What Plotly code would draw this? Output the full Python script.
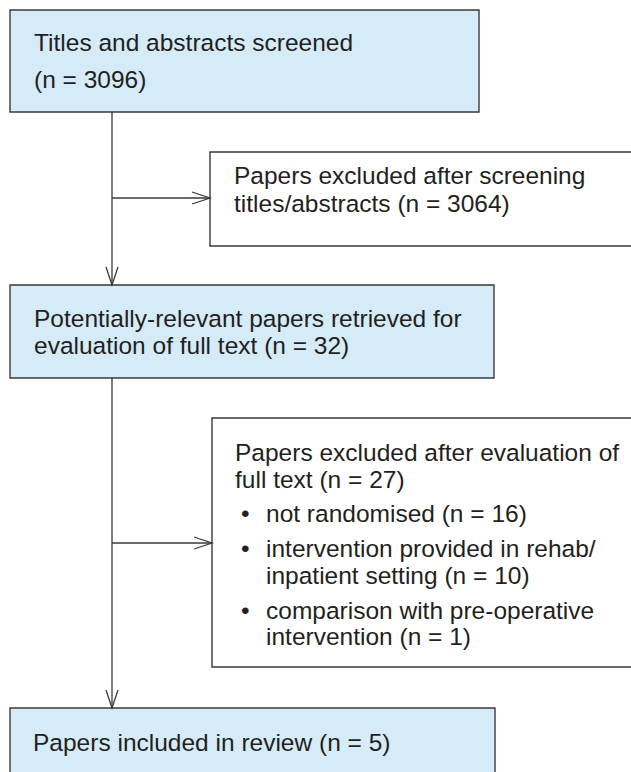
import plotly.graph_objects as go

# ---------------- data ----------------
stage_labels = ["Titles and abstracts screened",
                "Potentially-relevant papers retrieved for evaluation of full text",
                "Papers included in review"]
stage_n = [3096, 32, 5]
excluded_labels = ["Papers excluded after screening titles/abstracts",
                   "Papers excluded after evaluation of full text"]
excluded_n = [3064, 27]
reason_labels = ["not randomised",
                 "intervention provided in rehab/inpatient setting",
                 "comparison with pre-operative intervention"]
reason_n = [16, 10, 1]

# ---------------- text lines (wrapping as in the original) ----------------
box_lines = {
    "s1": ["Titles and abstracts screened", f"(n = {stage_n[0]})"],
    "s2": ["Potentially-relevant papers retrieved for",
           f"evaluation of full text (n = {stage_n[1]})"],
    "e1": ["Papers excluded after screening",
           f"titles/abstracts (n = {excluded_n[0]})"],
    "e2": ["Papers excluded after evaluation of",
           f"full text (n = {excluded_n[1]})"],
    "s3": [f"Papers included in review (n = {stage_n[2]})"],
}
bullet_lines = [
    [f"not randomised (n = {reason_n[0]})"],
    ["intervention provided in rehab/", f"inpatient setting (n = {reason_n[1]})"],
    ["comparison with pre-operative", f"intervention (n = {reason_n[2]})"],
]

# ---------------- layout geometry (axis units = pixels) ----------------
W, H = 631, 772
boxes = {  # x0, y0, x1, y1, filled
    "s1": (10, 10, 479, 112, True),
    "s2": (10, 285, 494, 378, True),
    "e1": (210, 152, 660, 246, False),
    "e2": (212, 418, 660, 667, False),
    "s3": (10, 708, 495, 800, True),
}
line_y = {
    "s1": [42, 79],
    "s2": [318, 345],
    "e1": [175, 203],
    "e2": [452, 479],
    "s3": [742],
}
text_x = {"s1": 32, "s2": 32, "e1": 232, "e2": 233, "s3": 31}
bullet_y = [[513], [548, 575], [610, 636]]
bullet_x, bullet_text_x = 239, 264
spine_x = 112

FILL = "#d5ebf8"
EDGE = "#3a3a3a"
TXT = "#231f20"
FONT = "Arial, Liberation Sans, Helvetica, sans-serif"
FS = 24.5

fig = go.Figure()
shapes = []
annotations = []

for k, (x0, y0, x1, y1, filled) in boxes.items():
    shapes.append(dict(type="rect", xref="x", yref="y", x0=x0, y0=y0, x1=x1, y1=y1,
                       fillcolor=FILL if filled else "white",
                       line=dict(color=EDGE, width=1.4), layer="below"))
    for txt, yy in zip(box_lines[k], line_y[k]):
        annotations.append(dict(x=text_x[k], y=yy, xref="x", yref="y", text=txt,
                                showarrow=False, xanchor="left", yanchor="middle",
                                font=dict(family=FONT, size=FS, color=TXT)))

for lines, ys in zip(bullet_lines, bullet_y):
    annotations.append(dict(x=bullet_x, y=ys[0], xref="x", yref="y", text="•",
                            showarrow=False, xanchor="left", yanchor="middle",
                            font=dict(family=FONT, size=FS, color=TXT)))
    for txt, yy in zip(lines, ys):
        annotations.append(dict(x=bullet_text_x, y=yy, xref="x", yref="y", text=txt,
                                showarrow=False, xanchor="left", yanchor="middle",
                                font=dict(family=FONT, size=FS, color=TXT)))

LW = 1.3
AL, AW = 18, 6  # arrowhead length, half-width


def connector(x0, y0, x1, y1):
    shapes.append(dict(type="line", xref="x", yref="y", x0=x0, y0=y0, x1=x1, y1=y1,
                       line=dict(color=EDGE, width=LW)))
    if x0 == x1:  # vertical, pointing down
        path = f"M{x1-AW},{y1-AL} L{x1},{y1} L{x1+AW},{y1-AL}"
    else:  # horizontal, pointing right
        path = f"M{x1-AL},{y1-AW} L{x1},{y1} L{x1-AL},{y1+AW}"
    shapes.append(dict(type="path", xref="x", yref="y", path=path,
                       line=dict(color=EDGE, width=LW)))


# vertical spine with arrows into the next stage
connector(spine_x, boxes["s1"][3], spine_x, boxes["s2"][1])
connector(spine_x, boxes["s2"][3], spine_x, boxes["s3"][1])
# side arrows to exclusion boxes
connector(spine_x, 198, boxes["e1"][0], 198)
connector(spine_x, 543, boxes["e2"][0], 543)

fig.update_layout(
    width=W, height=H,
    margin=dict(l=0, r=0, t=0, b=0),
    paper_bgcolor="white", plot_bgcolor="white",
    xaxis=dict(range=[0, W], visible=False, fixedrange=True),
    yaxis=dict(range=[H, 0], visible=False, fixedrange=True),
    shapes=shapes, annotations=annotations, showlegend=False,
)

fig.write_html(
    "out.html",
    config={"displayModeBar": False},
    post_script="document.body.style.margin='0';document.body.style.overflow='hidden';",
)
